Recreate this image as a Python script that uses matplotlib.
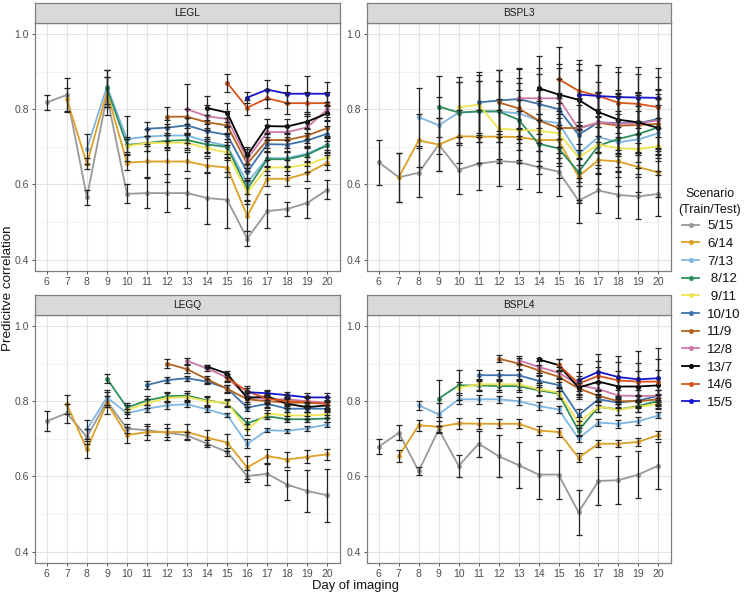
import matplotlib.pyplot as plt
from matplotlib.lines import Line2D

plt.rcParams['font.family'] = ['Liberation Sans', 'DejaVu Sans']

days = list(range(6, 21))
scenarios = ['5/15', '6/14', '7/13', ' 8/12', ' 9/11', '10/10', '11/9', '12/8', '13/7', '14/6', '15/5']
colors = ['#999999', '#DDA027', '#7FB6E2', '#2E8F5E', '#EEE450', '#3F73AA',
          '#B4621E', '#CC79A7', '#000000', '#D8541A', '#1515D0']
panels = ['LEGL', 'BSPL3', 'LEGQ', 'BSPL4']

# each row = one scenario, starting at day 6, 7, 8, ...
legl_mean = [
    [0.818, 0.838, 0.566, 0.835, 0.575, 0.577, 0.577, 0.577, 0.564, 0.559, 0.456, 0.529, 0.535, 0.551, 0.586],
    [0.826, 0.655, 0.845, 0.658, 0.661, 0.661, 0.661, 0.650, 0.645, 0.516, 0.615, 0.615, 0.630, 0.658],
    [0.695, 0.860, 0.721, 0.727, 0.730, 0.730, 0.714, 0.703, 0.605, 0.670, 0.670, 0.682, 0.706],
    [0.855, 0.705, 0.710, 0.716, 0.718, 0.706, 0.700, 0.588, 0.667, 0.667, 0.679, 0.704],
    [0.702, 0.710, 0.711, 0.711, 0.696, 0.685, 0.578, 0.645, 0.645, 0.653, 0.672],
    [0.748, 0.751, 0.757, 0.741, 0.732, 0.633, 0.707, 0.706, 0.717, 0.735],
    [0.780, 0.780, 0.765, 0.757, 0.655, 0.718, 0.718, 0.730, 0.750],
    [0.800, 0.781, 0.774, 0.668, 0.739, 0.739, 0.752, 0.800],
    [0.803, 0.791, 0.677, 0.755, 0.754, 0.767, 0.789],
    [0.870, 0.804, 0.829, 0.816, 0.816, 0.816],
    [0.831, 0.852, 0.841, 0.841, 0.841],
]
legl_err = [
    [0.020, 0.045, 0.020, 0.050, 0.025, 0.040, 0.050, 0.040, 0.070, 0.075, 0.020, 0.045, 0.018, 0.040, 0.025],
    [0.030, 0.015, 0.040, 0.020, 0.040, 0.055, 0.025, 0.020, 0.025, 0.040, 0.020, 0.020, 0.020, 0.020],
    [0.040, 0.045, 0.060, 0.020, 0.030, 0.020, 0.030, 0.030, 0.030, 0.020, 0.020, 0.020, 0.020],
    [0.050, 0.020, 0.020, 0.020, 0.020, 0.020, 0.020, 0.030, 0.020, 0.020, 0.020, 0.020],
    [0.020, 0.020, 0.020, 0.020, 0.020, 0.020, 0.030, 0.020, 0.020, 0.020, 0.020],
    [0.018, 0.020, 0.020, 0.020, 0.020, 0.020, 0.020, 0.020, 0.020, 0.020],
    [0.027, 0.020, 0.020, 0.020, 0.020, 0.020, 0.020, 0.020, 0.020],
    [0.067, 0.030, 0.020, 0.025, 0.020, 0.020, 0.030, 0.020],
    [0.033, 0.025, 0.023, 0.020, 0.020, 0.020, 0.020],
    [0.024, 0.020, 0.025, 0.030, 0.030, 0.030],
    [0.015, 0.025, 0.024, 0.048, 0.030],
]

bspl3_mean = [
    [0.659, 0.619, 0.631, 0.706, 0.639, 0.655, 0.662, 0.659, 0.646, 0.634, 0.557, 0.584, 0.572, 0.568, 0.575],
    [0.619, 0.717, 0.706, 0.728, 0.727, 0.727, 0.726, 0.718, 0.718, 0.621, 0.665, 0.661, 0.646, 0.632],
    [0.779, 0.757, 0.791, 0.794, 0.794, 0.789, 0.770, 0.763, 0.681, 0.726, 0.712, 0.720, 0.736],
    [0.807, 0.791, 0.794, 0.794, 0.772, 0.708, 0.696, 0.633, 0.703, 0.721, 0.734, 0.752],
    [0.805, 0.812, 0.748, 0.745, 0.743, 0.736, 0.672, 0.706, 0.696, 0.694, 0.701],
    [0.818, 0.823, 0.827, 0.814, 0.800, 0.732, 0.765, 0.763, 0.763, 0.774],
    [0.818, 0.802, 0.770, 0.750, 0.750, 0.764, 0.756, 0.758, 0.761],
    [0.829, 0.829, 0.829, 0.748, 0.765, 0.761, 0.763, 0.770],
    [0.856, 0.839, 0.825, 0.792, 0.772, 0.765, 0.750],
    [0.880, 0.849, 0.835, 0.817, 0.814, 0.805],
    [0.839, 0.835, 0.832, 0.831, 0.830],
]
bspl3_err = [
    [0.060, 0.065, 0.065, 0.070, 0.065, 0.070, 0.065, 0.070, 0.065, 0.065, 0.060, 0.060, 0.060, 0.060, 0.060],
    [0.065, 0.070, 0.070, 0.070, 0.070, 0.070, 0.070, 0.070, 0.070, 0.070, 0.065, 0.065, 0.065, 0.065],
    [0.078, 0.075, 0.080, 0.080, 0.080, 0.080, 0.080, 0.080, 0.075, 0.075, 0.075, 0.075, 0.075],
    [0.080, 0.080, 0.080, 0.080, 0.080, 0.080, 0.080, 0.075, 0.075, 0.075, 0.075, 0.075],
    [0.080, 0.080, 0.080, 0.080, 0.080, 0.080, 0.075, 0.075, 0.075, 0.075, 0.075],
    [0.080, 0.080, 0.080, 0.080, 0.080, 0.080, 0.080, 0.080, 0.080, 0.080],
    [0.085, 0.080, 0.080, 0.080, 0.080, 0.080, 0.080, 0.080, 0.080],
    [0.080, 0.080, 0.080, 0.080, 0.080, 0.080, 0.080, 0.080],
    [0.086, 0.080, 0.080, 0.080, 0.080, 0.080, 0.080],
    [0.086, 0.082, 0.083, 0.081, 0.080, 0.080],
    [0.080, 0.083, 0.080, 0.080, 0.080],
]

legq_mean = [
    [0.747, 0.768, 0.705, 0.800, 0.727, 0.723, 0.716, 0.709, 0.687, 0.665, 0.601, 0.607, 0.578, 0.561, 0.550],
    [0.792, 0.672, 0.795, 0.710, 0.718, 0.718, 0.718, 0.703, 0.690, 0.624, 0.654, 0.645, 0.652, 0.659],
    [0.725, 0.810, 0.768, 0.780, 0.789, 0.792, 0.778, 0.763, 0.687, 0.723, 0.721, 0.728, 0.738],
    [0.860, 0.783, 0.802, 0.813, 0.815, 0.802, 0.794, 0.741, 0.760, 0.752, 0.752, 0.754],
    [0.777, 0.794, 0.809, 0.811, 0.800, 0.796, 0.725, 0.767, 0.762, 0.762, 0.765],
    [0.843, 0.856, 0.861, 0.852, 0.834, 0.783, 0.793, 0.780, 0.780, 0.780],
    [0.900, 0.885, 0.858, 0.833, 0.805, 0.800, 0.796, 0.796, 0.796],
    [0.907, 0.887, 0.863, 0.813, 0.805, 0.805, 0.800, 0.796],
    [0.892, 0.873, 0.808, 0.813, 0.793, 0.784, 0.789],
    [0.862, 0.826, 0.807, 0.800, 0.797, 0.792],
    [0.824, 0.821, 0.816, 0.810, 0.810],
]
legq_err = [
    [0.027, 0.025, 0.020, 0.015, 0.012, 0.012, 0.012, 0.010, 0.010, 0.010, 0.015, 0.030, 0.040, 0.055, 0.070],
    [0.025, 0.022, 0.030, 0.022, 0.022, 0.022, 0.022, 0.020, 0.022, 0.030, 0.020, 0.020, 0.017, 0.015],
    [0.025, 0.020, 0.012, 0.010, 0.010, 0.008, 0.006, 0.006, 0.012, 0.006, 0.005, 0.006, 0.006],
    [0.012, 0.012, 0.012, 0.012, 0.012, 0.012, 0.010, 0.015, 0.008, 0.008, 0.008, 0.008],
    [0.012, 0.012, 0.012, 0.012, 0.012, 0.010, 0.015, 0.010, 0.010, 0.010, 0.010],
    [0.010, 0.007, 0.007, 0.007, 0.010, 0.010, 0.010, 0.010, 0.010, 0.010],
    [0.012, 0.010, 0.010, 0.010, 0.020, 0.015, 0.015, 0.015, 0.015],
    [0.008, 0.008, 0.010, 0.015, 0.012, 0.012, 0.015, 0.015],
    [0.005, 0.008, 0.015, 0.015, 0.012, 0.012, 0.012],
    [0.010, 0.015, 0.012, 0.012, 0.012, 0.012],
    [0.010, 0.010, 0.008, 0.012, 0.012],
]

bspl4_mean = [
    [0.679, 0.716, 0.614, 0.725, 0.628, 0.687, 0.654, 0.630, 0.605, 0.605, 0.505, 0.588, 0.590, 0.605, 0.629],
    [0.654, 0.736, 0.732, 0.741, 0.740, 0.740, 0.740, 0.722, 0.718, 0.650, 0.687, 0.687, 0.692, 0.710],
    [0.789, 0.765, 0.805, 0.805, 0.805, 0.800, 0.787, 0.778, 0.701, 0.743, 0.740, 0.747, 0.762],
    [0.807, 0.842, 0.842, 0.840, 0.840, 0.829, 0.820, 0.722, 0.785, 0.778, 0.787, 0.801],
    [0.836, 0.845, 0.845, 0.845, 0.832, 0.823, 0.743, 0.785, 0.778, 0.785, 0.793],
    [0.869, 0.869, 0.869, 0.854, 0.843, 0.763, 0.805, 0.796, 0.802, 0.814],
    [0.913, 0.900, 0.882, 0.865, 0.834, 0.814, 0.800, 0.800, 0.805],
    [0.909, 0.891, 0.876, 0.843, 0.832, 0.815, 0.814, 0.814],
    [0.911, 0.896, 0.836, 0.852, 0.839, 0.839, 0.842],
    [0.897, 0.847, 0.867, 0.855, 0.852, 0.852],
    [0.855, 0.878, 0.864, 0.858, 0.861],
]
bspl4_err = [
    [0.020, 0.020, 0.010, 0.010, 0.030, 0.035, 0.055, 0.062, 0.065, 0.065, 0.060, 0.063, 0.063, 0.063, 0.062],
    [0.015, 0.015, 0.015, 0.015, 0.015, 0.012, 0.012, 0.012, 0.012, 0.012, 0.010, 0.010, 0.010, 0.010],
    [0.012, 0.030, 0.012, 0.012, 0.010, 0.010, 0.010, 0.010, 0.010, 0.010, 0.010, 0.010, 0.008],
    [0.050, 0.040, 0.015, 0.015, 0.015, 0.015, 0.015, 0.015, 0.015, 0.015, 0.015, 0.015],
    [0.015, 0.015, 0.015, 0.015, 0.015, 0.015, 0.015, 0.015, 0.015, 0.015, 0.015],
    [0.015, 0.015, 0.015, 0.015, 0.015, 0.015, 0.015, 0.015, 0.015, 0.015],
    [0.010, 0.015, 0.015, 0.015, 0.015, 0.015, 0.015, 0.015, 0.015],
    [0.010, 0.015, 0.015, 0.015, 0.015, 0.015, 0.015, 0.015],
    [0.005, 0.015, 0.030, 0.040, 0.040, 0.040, 0.040],
    [0.015, 0.030, 0.040, 0.050, 0.050, 0.060],
    [0.045, 0.047, 0.056, 0.075, 0.080],
]

W, H = 744, 596
fig = plt.figure(figsize=(W / 100, H / 100), dpi=100)


def box(l, t, r, b):
    return [l / W, 1 - b / H, (r - l) / W, (b - t) / H]


def draw_panel(rect, title, means, errs):
    l, t, r, b = rect
    ax = fig.add_axes(box(l, t, r, b))
    for k in range(len(means)):
        x = days[k:]
        ax.plot(x, means[k], color=colors[k], lw=1.3, marker='o', ms=2.6, zorder=2)
        ax.errorbar(x, means[k], yerr=errs[k], fmt='none', ecolor='#222222',
                    elinewidth=0.9, capsize=2.3, capthick=0.9, zorder=3)
    ax.set_xlim(5.41, 20.63)
    ax.set_ylim(0.37, 1.029)
    ax.set_xticks(days)
    ax.set_yticks([0.4, 0.6, 0.8, 1.0])
    ax.set_yticklabels(['0.4', '0.6', '0.8', '1.0'])
    ax.set_yticks([0.5, 0.7, 0.9], minor=True)
    ax.grid(which='major', color='#E3E3E3', lw=0.8, zorder=0)
    ax.grid(which='minor', axis='y', color='#EEEEEE', lw=0.5, zorder=0)
    ax.set_axisbelow(True)
    ax.tick_params(which='major', length=2.5, width=0.7, color='#555555',
                   labelsize=7.5, labelcolor='#4D4D4D', pad=2)
    ax.tick_params(which='minor', length=0)
    for s in ax.spines.values():
        s.set_color('#7F7F7F')
        s.set_linewidth(0.9)
    st = fig.add_axes(box(l, t - 20, r, t))
    st.set_facecolor('#D9D9D9')
    st.set_xticks([])
    st.set_yticks([])
    for s in st.spines.values():
        s.set_color('#7F7F7F')
        s.set_linewidth(0.9)
    st.text(0.5, 0.5, title, ha='center', va='center', fontsize=7.3, color='#1A1A1A',
            transform=st.transAxes)
    return ax


draw_panel((35, 23, 340, 271), panels[0], legl_mean, legl_err)
draw_panel((367, 23, 671, 271), panels[1], bspl3_mean, bspl3_err)
draw_panel((35, 315, 340, 563), panels[2], legq_mean, legq_err)
draw_panel((367, 315, 671, 563), panels[3], bspl4_mean, bspl4_err)

fig.text(8 / W, 1 - 288 / H, 'Predicitve correlation', rotation=90, ha='center', va='center',
         fontsize=9.6, color='#111111')
fig.text(356 / W, 1 - 586 / H, 'Day of imaging', ha='center', va='center',
         fontsize=9.4, color='#111111')

# legend
fig.text(710 / W, 1 - 202 / H, 'Scenario\n(Train/Test)', ha='center', va='center',
         fontsize=8.9, linespacing=1.4, color='#111111')
handles = [Line2D([], [], color=c, lw=1.3, marker='o', ms=2.6) for c in colors]
fig.legend(handles, scenarios, loc='upper left', bbox_to_anchor=(682 / W, 1 - 220 / H),
           frameon=False, fontsize=9.6, handlelength=1.3, handletextpad=0.6,
           labelspacing=0.4, borderpad=0, borderaxespad=0, labelcolor='#111111')

fig.savefig('out.png', dpi=100)
